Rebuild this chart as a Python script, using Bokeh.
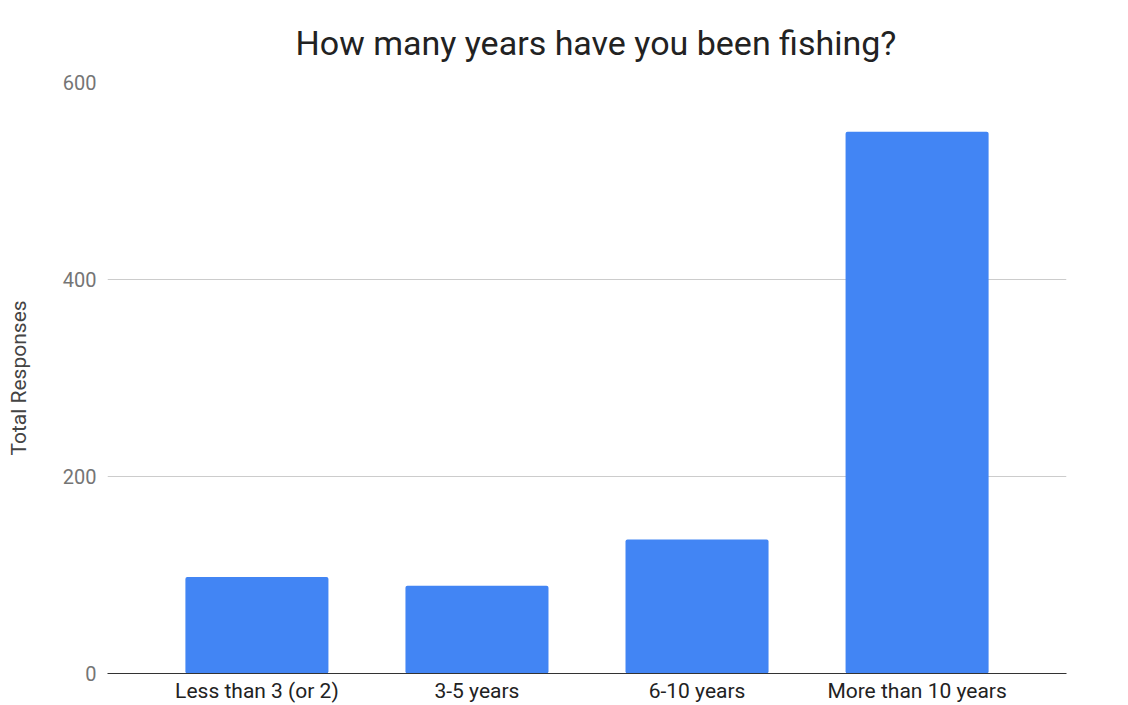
from bokeh.plotting import figure
from bokeh.models import (FactorRange, Range1d, FixedTicker, Legend, LegendItem,
                          ColumnDataSource)
from bokeh.embed import file_html
from bokeh.resources import INLINE

# ---- data ----
categories = ["Less than 3 (or 2)", "3-5 years", "6-10 years", "More than 10 years"]
responses = [98, 89, 136, 550]
y_ticks = [0, 200, 400, 600]
title_text = "How many years have you been fishing?"
y_label = "Total Responses"

FONT = "Roboto"
BLUE = "#4285F4"

src = ColumnDataSource(dict(cat=categories, val=responses))

p = figure(width=1128, height=705,
           x_range=FactorRange(*categories, range_padding=0.0895),
           y_range=Range1d(0, 600),
           output_backend="svg", toolbar_location=None,
           min_border_left=107, min_border_right=62, min_border_top=80,
           min_border_bottom=31)

p.title.text = title_text
p.title.align = "left"
p.title.offset = 188
p.title.text_font = FONT
p.title.text_font_size = "34px"
p.title.text_font_style = "normal"
p.title.text_color = "#222222"
p.title.standoff = 40

r = p.vbar(x="cat", top="val", width=0.65, source=src, fill_color=BLUE,
           line_color=None, border_radius=2)

p.outline_line_color = None
p.background_fill_color = "white"
p.border_fill_color = "white"

p.xgrid.grid_line_color = None
p.ygrid.grid_line_color = "#cccccc"
p.ygrid.grid_line_width = 1
p.ygrid.ticker = FixedTicker(ticks=y_ticks)

p.yaxis.ticker = FixedTicker(ticks=y_ticks)
p.yaxis.axis_line_color = None
p.yaxis.major_tick_line_color = None
p.yaxis.minor_tick_line_color = None
p.yaxis.major_tick_out = 0
p.yaxis.major_tick_in = 0
p.yaxis.minor_tick_out = 0
p.yaxis.major_label_text_font = FONT
p.yaxis.major_label_text_font_size = "20px"
p.yaxis.major_label_text_color = "#757575"
p.yaxis.major_label_standoff = 11
p.yaxis.axis_label = y_label
p.yaxis.axis_label_text_font = FONT
p.yaxis.axis_label_text_font_size = "21px"
p.yaxis.axis_label_text_font_style = "normal"
p.yaxis.axis_label_text_color = "#444444"
p.yaxis.axis_label_standoff = 29

p.xaxis.axis_line_color = "#333333"
p.xaxis.axis_line_width = 1
p.xaxis.major_tick_line_color = None
p.xaxis.minor_tick_line_color = None
p.xaxis.major_tick_out = 0
p.xaxis.major_tick_in = 0
p.xaxis.minor_tick_out = 0
p.xaxis.major_label_text_font = FONT
p.xaxis.major_label_text_font_size = "21px"
p.xaxis.major_label_text_color = "#222222"
p.xaxis.major_label_standoff = 5

legend = Legend(items=[LegendItem(label=" ", renderers=[r])],
                location=(1000, 583), orientation="vertical",
                glyph_width=20, glyph_height=20, padding=0, margin=0,
                spacing=0, label_standoff=0, label_width=0, label_height=20,
                border_line_color=None, background_fill_alpha=0)
p.add_layout(legend, "center")

open("out.html", "w").write(file_html(p, INLINE))
